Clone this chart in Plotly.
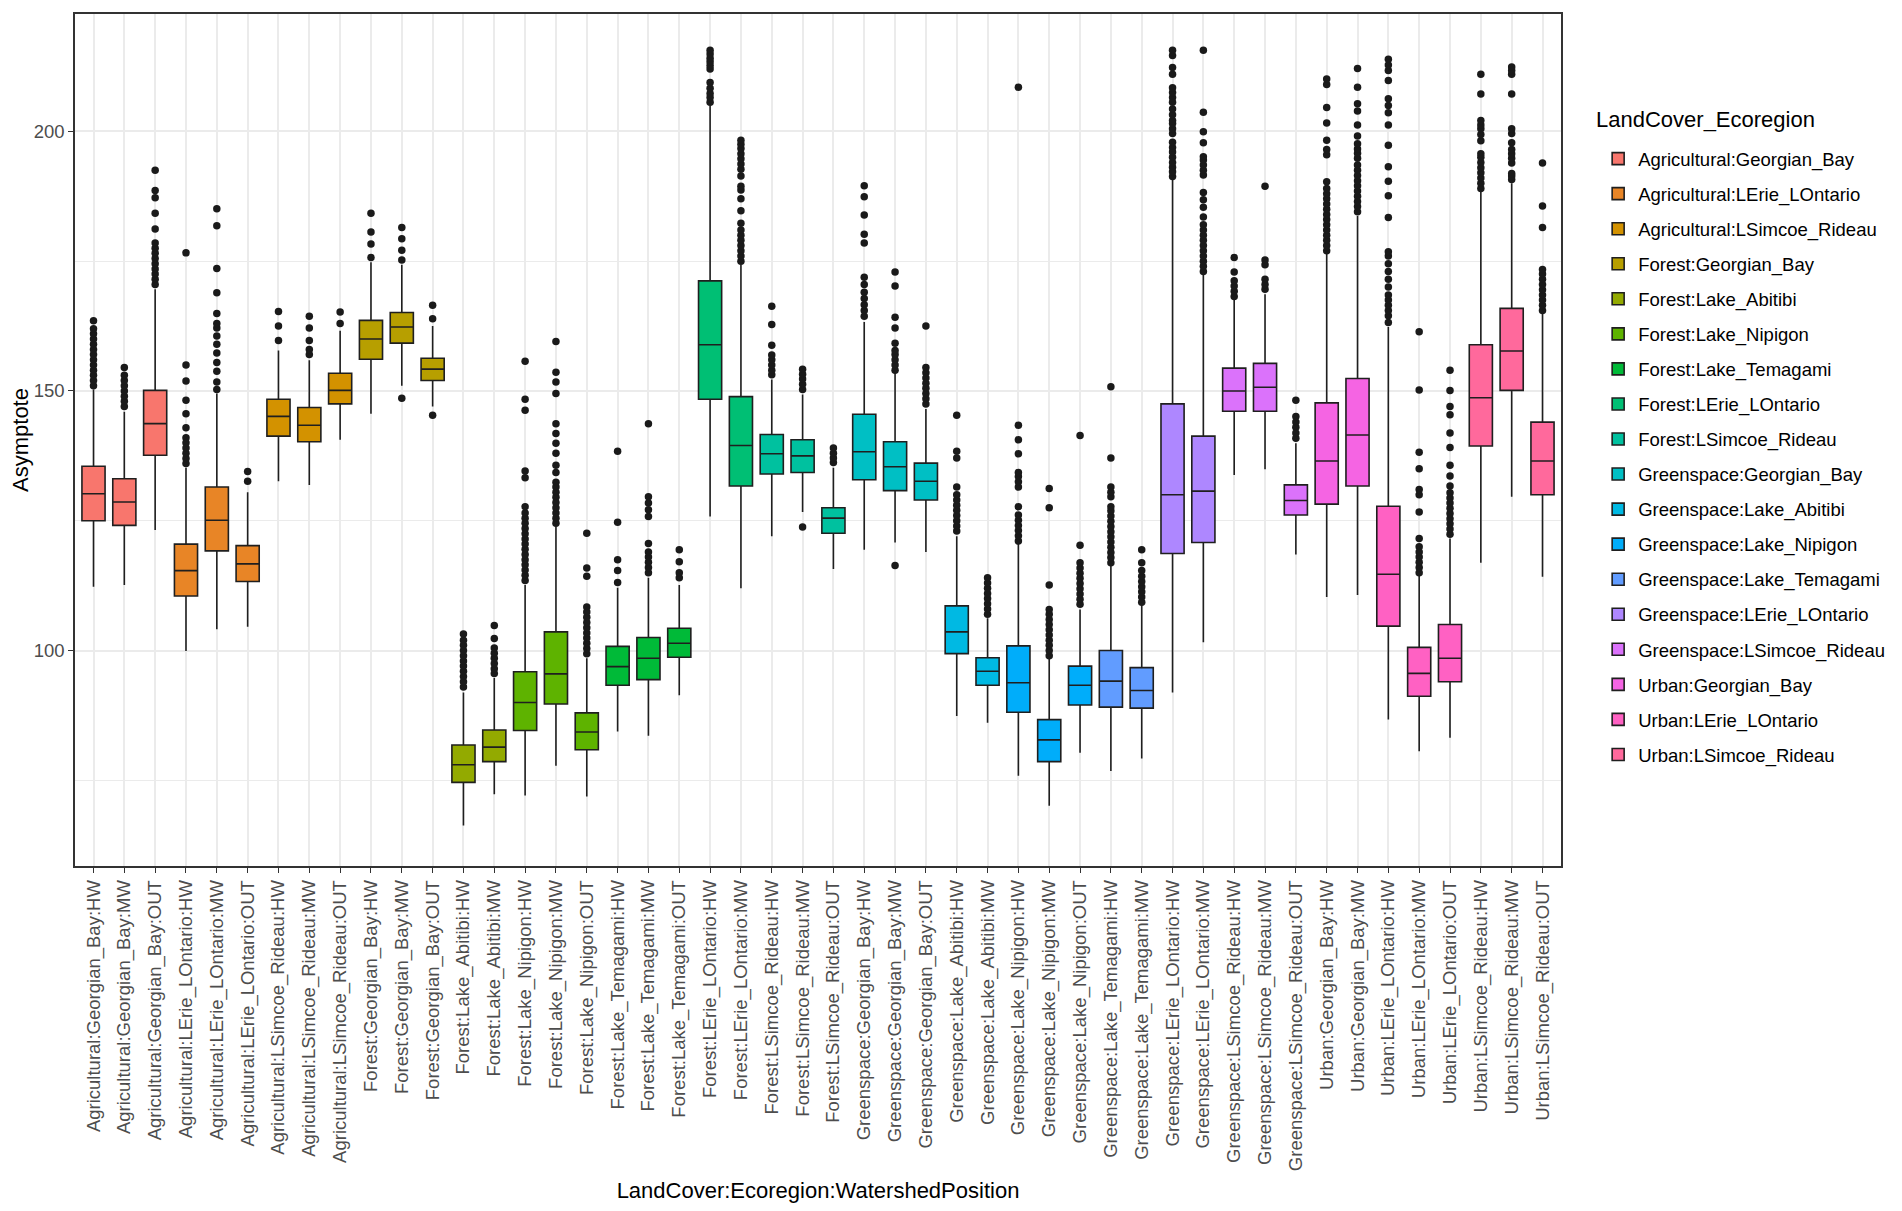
import math
import plotly.graph_objects as go

# categories along the x axis (LandCover:Ecoregion:WatershedPosition)
categories = [
    "Agricultural:Georgian_Bay:HW", "Agricultural:Georgian_Bay:MW", "Agricultural:Georgian_Bay:OUT",
    "Agricultural:LErie_LOntario:HW", "Agricultural:LErie_LOntario:MW", "Agricultural:LErie_LOntario:OUT",
    "Agricultural:LSimcoe_Rideau:HW", "Agricultural:LSimcoe_Rideau:MW", "Agricultural:LSimcoe_Rideau:OUT",
    "Forest:Georgian_Bay:HW", "Forest:Georgian_Bay:MW", "Forest:Georgian_Bay:OUT",
    "Forest:Lake_Abitibi:HW", "Forest:Lake_Abitibi:MW",
    "Forest:Lake_Nipigon:HW", "Forest:Lake_Nipigon:MW", "Forest:Lake_Nipigon:OUT",
    "Forest:Lake_Temagami:HW", "Forest:Lake_Temagami:MW", "Forest:Lake_Temagami:OUT",
    "Forest:LErie_LOntario:HW", "Forest:LErie_LOntario:MW",
    "Forest:LSimcoe_Rideau:HW", "Forest:LSimcoe_Rideau:MW", "Forest:LSimcoe_Rideau:OUT",
    "Greenspace:Georgian_Bay:HW", "Greenspace:Georgian_Bay:MW", "Greenspace:Georgian_Bay:OUT",
    "Greenspace:Lake_Abitibi:HW", "Greenspace:Lake_Abitibi:MW",
    "Greenspace:Lake_Nipigon:HW", "Greenspace:Lake_Nipigon:MW", "Greenspace:Lake_Nipigon:OUT",
    "Greenspace:Lake_Temagami:HW", "Greenspace:Lake_Temagami:MW",
    "Greenspace:LErie_LOntario:HW", "Greenspace:LErie_LOntario:MW",
    "Greenspace:LSimcoe_Rideau:HW", "Greenspace:LSimcoe_Rideau:MW", "Greenspace:LSimcoe_Rideau:OUT",
    "Urban:Georgian_Bay:HW", "Urban:Georgian_Bay:MW",
    "Urban:LErie_LOntario:HW", "Urban:LErie_LOntario:MW", "Urban:LErie_LOntario:OUT",
    "Urban:LSimcoe_Rideau:HW", "Urban:LSimcoe_Rideau:MW", "Urban:LSimcoe_Rideau:OUT",
]

# box statistics
q1 = [125.0, 124.1, 137.6, 110.5, 119.2, 113.3, 141.3, 140.2, 147.5, 156.1, 159.2, 152.0,
      74.6, 78.6, 84.6, 89.7, 80.9, 93.3, 94.4, 98.7, 148.4, 131.7, 134.0, 134.3, 122.6,
      132.9, 130.8, 129.0, 99.4, 93.3, 88.1, 78.6, 89.5, 89.1, 88.9, 118.7, 120.8,
      146.1, 146.1, 126.1, 128.2, 131.7, 104.7, 91.2, 94.0, 139.4, 150.1, 130.0]
medians = [130.2, 128.6, 143.7, 115.4, 125.1, 116.7, 145.1, 143.4, 150.1, 160.0, 162.3, 154.2,
           78.0, 81.4, 90.0, 95.5, 84.3, 96.9, 98.5, 101.4, 158.9, 139.5, 137.9, 137.5, 125.5,
           138.3, 135.4, 132.6, 103.6, 96.0, 93.8, 82.8, 93.3, 94.1, 92.3, 130.0, 130.7,
           150.0, 150.7, 128.9, 136.5, 141.5, 114.7, 95.6, 98.5, 148.7, 157.7, 136.5]
q3 = [135.5, 133.1, 150.1, 120.5, 131.5, 120.2, 148.4, 146.8, 153.4, 163.6, 165.1, 156.3,
      81.8, 84.7, 95.9, 103.6, 88.0, 100.8, 102.5, 104.3, 171.2, 148.9, 141.6, 140.6, 127.5,
      145.5, 140.2, 136.1, 108.6, 98.6, 100.9, 86.7, 97.0, 100.0, 96.7, 147.5, 141.3,
      154.4, 155.3, 131.9, 147.7, 152.4, 127.8, 100.6, 105.0, 158.9, 165.9, 144.0]
lower_whisker = [112.3, 112.6, 123.2, 99.9, 104.1, 104.6, 132.6, 131.9, 140.6, 145.6, 151.0, 147.0,
                 66.3, 72.3, 72.1, 77.8, 71.9, 84.4, 83.6, 91.4, 125.8, 112.0, 122.0, 126.7, 115.7,
                 119.4, 120.8, 119.0, 87.4, 86.1, 75.9, 70.1, 80.3, 76.8, 79.2, 91.9, 101.6,
                 133.8, 134.9, 118.5, 110.3, 110.7, 86.7, 80.6, 83.2, 116.9, 129.6, 114.2]
upper_whisker = [150.3, 146.0, 169.6, 135.2, 149.5, 130.5, 157.8, 155.9, 161.6, 174.8, 174.3, 162.5,
                 91.9, 94.7, 112.6, 123.9, 98.5, 112.1, 114.0, 112.6, 205.0, 174.3, 152.2, 149.3, 135.2,
                 163.3, 153.8, 146.5, 122.0, 106.2, 120.6, 98.5, 107.9, 116.4, 108.9, 190.7, 172.4,
                 167.7, 168.6, 139.9, 176.6, 183.7, 162.3, 114.5, 121.6, 188.6, 190.0, 165.2]

# outlying points per category
outliers = [
    [151, 152, 153, 154, 155, 156, 157, 158, 159, 160, 161, 162, 163.5],
    [147, 148, 149, 150, 151, 152, 153, 154.5],
    [170.5, 171.5, 172.5, 173.5, 174.5, 175.5, 176.5, 177.5, 178.5, 181.2, 184.2, 187.2, 188.6, 192.5],
    [136, 137, 138, 139, 140, 141, 142.9, 145.6, 148.2, 151.9, 155.0, 176.6],
    [150.3, 151.7, 153.8, 155.5, 157.3, 159.0, 160.6, 162.1, 163.0, 164.9, 168.9, 173.6, 181.8, 185.1],
    [132.6, 134.5],
    [159.7, 162.5, 165.3],
    [157, 158, 159.7, 162.1, 164.4],
    [163.0, 165.2],
    [175.7, 178.3, 180.6, 184.2],
    [175.2, 177.1, 179.3, 181.5, 148.6],
    [163.9, 166.5, 145.3],
    [93, 94, 95, 96, 97, 98, 99, 100, 101, 102, 103.2],
    [95.6, 96.5, 97.5, 98.5, 99.5, 100.5, 102.3, 104.8],
    [113.5, 114.5, 115.5, 116.5, 117.5, 118.5, 119.5, 120.5, 121.5, 122.5, 123.5, 124.5, 125.5,
     126.5, 127.7, 133.3, 134.6, 146.3, 148.4, 155.7],
    [124.5, 125.5, 126.5, 127.5, 128.5, 129.5, 130.5, 131.5, 132.4, 134.3, 135.7, 138.0, 139.9,
     141.8, 143.7, 149.5, 151.7, 153.6, 159.5],
    [99.4, 100.4, 101.4, 102.4, 103.4, 104.4, 105.4, 106.4, 107.4, 108.4, 114.3, 115.9, 122.6],
    [113.1, 115.4, 117.5, 124.7, 138.4],
    [115.0, 116.0, 117.0, 118.0, 119.0, 120.6, 125.8, 127.1, 128.4, 129.6, 143.7],
    [114.0, 115.0, 117.1, 119.4],
    [205.6, 206.5, 207.3, 208.3, 209.4, 212.0, 212.7, 213.4, 214.1, 214.9, 215.6],
    [175.0, 176.0, 177.0, 178.0, 179.0, 180.0, 181.0, 182.3, 184.7, 187.0, 188.7, 189.4, 191.4,
     192.7, 193.7, 194.7, 195.7, 196.7, 197.5, 198.3],
    [153.1, 154.0, 155.0, 156.0, 156.9, 158.8, 162.8, 166.3],
    [150.3, 151.3, 152.3, 153.2, 154.2, 123.8],
    [136.2, 137.1, 138.0, 139.0],
    [164.4, 165.5, 166.6, 167.8, 169.0, 170.5, 171.9, 178.5, 180.2, 183.9, 187.4, 189.5],
    [154.0, 155.0, 156.0, 157.0, 157.8, 159.2, 162.1, 164.2, 170.2, 172.9, 116.4],
    [147.5, 148.5, 149.5, 150.5, 151.5, 152.5, 153.5, 154.5, 162.5],
    [123.0, 124.0, 125.0, 126.0, 127.0, 128.0, 129.0, 130.0, 131.5, 137.1, 138.4, 145.3],
    [107.0, 108.0, 109.0, 110.0, 111.0, 112.0, 113.0, 114.0],
    [121.1, 122.1, 123.1, 124.1, 125.1, 126.1, 127.7, 131.5, 132.5, 133.5, 134.3, 137.9, 140.6,
     143.4, 208.5],
    [99.0, 100.0, 101.0, 102.0, 103.0, 104.0, 105.0, 106.0, 107.0, 107.9, 112.6, 127.5, 131.2],
    [108.9, 109.9, 110.9, 111.9, 112.9, 113.9, 114.9, 115.9, 116.9, 120.3, 141.4],
    [116.9, 117.9, 118.9, 119.9, 120.9, 121.9, 122.9, 123.9, 124.9, 125.9, 126.9, 127.7, 129.6,
     130.5, 131.5, 137.1, 150.8],
    [109.3, 110.3, 111.3, 112.3, 113.3, 114.3, 115.4, 116.9, 119.4],
    [191.3, 192.2, 193.1, 194.0, 195.0, 196.0, 196.9, 197.9, 199.6, 200.5, 201.5, 202.1, 203.2,
     204.3, 205.6, 206.5, 207.5, 208.4, 211.0, 212.3, 214.6, 215.6],
    [173.0, 174.0, 175.0, 176.0, 177.0, 178.0, 179.0, 180.0, 181.0, 182.0, 183.5, 185.4, 186.8,
     188.2, 191.6, 192.5, 193.5, 194.5, 195.1, 197.8, 199.9, 203.7, 215.6],
    [168.2, 169.2, 170.2, 171.2, 172.9, 175.7],
    [169.6, 170.5, 171.5, 174.3, 175.2, 189.4],
    [140.9, 141.9, 143.0, 144.0, 145.1, 148.2],
    [177.0, 178.0, 179.0, 180.0, 181.0, 182.0, 183.0, 184.0, 185.0, 186.0, 187.0, 188.0, 189.0,
     190.3, 195.5, 196.5, 198.3, 201.6, 204.6, 209.0, 210.1],
    [184.5, 185.5, 186.5, 187.5, 188.5, 189.5, 190.5, 191.5, 192.5, 193.5, 194.8, 195.8, 196.6,
     197.6, 199.1, 201.2, 203.9, 205.3, 208.5, 212.1],
    [163.2, 164.5, 165.5, 166.5, 167.5, 168.5, 170.0, 171.5, 173.0, 174.5, 176.0, 176.8, 183.4,
     187.6, 190.4, 193.2, 197.3, 201.2, 203.6, 205.0, 206.3, 209.8, 211.7, 212.8, 213.9],
    [115.0, 116.0, 117.0, 118.0, 119.0, 120.0, 121.6, 126.7, 130.0, 131.0, 135.0, 138.2, 150.2, 161.4],
    [122.4, 123.4, 124.4, 125.4, 126.4, 127.4, 128.4, 129.4, 130.4, 131.7, 133.6, 135.7, 139.1,
     141.9, 145.4, 147.0, 150.1, 154.0],
    [189.0, 190.0, 191.0, 192.0, 193.0, 194.0, 195.0, 195.7, 198.2, 199.4, 200.5, 201.2, 202.1,
     207.2, 211.0],
    [190.7, 191.4, 191.9, 193.9, 194.8, 195.7, 196.5, 197.8, 199.6, 200.5, 207.2, 211.0, 211.7, 212.4],
    [165.5, 166.5, 167.5, 168.5, 169.5, 170.5, 171.5, 172.5, 173.4, 181.5, 185.6, 193.9],
]

y_ticks = [100, 150, 200]
y_minor = [75, 125, 175]

FONT = "Liberation Sans, Arial, sans-serif"


def hcl_hex(h, c=100, l=65):
    """ggplot2-style hue colour (polar LUV -> sRGB)."""
    un, vn = 0.1978398, 0.4683363
    y = 100 * ((l + 16) / 116) ** 3
    u = c * math.cos(math.radians(h))
    v = c * math.sin(math.radians(h))
    up = u / (13 * l) + un
    vp = v / (13 * l) + vn
    x = 9 * y * up / (4 * vp)
    z = -x / 3 - 5 * y + 3 * y / vp
    x, y, z = x / 100, y / 100, z / 100
    rgb = [3.240479 * x - 1.537150 * y - 0.498535 * z,
           -0.969256 * x + 1.875992 * y + 0.041556 * z,
           0.055648 * x - 0.204043 * y + 1.057311 * z]
    out = []
    for ch in rgb:
        ch = 1.055 * ch ** (1 / 2.4) - 0.055 if ch > 0.0031308 else 12.92 * ch
        out.append(int(round(min(max(ch, 0), 1) * 255)))
    return "#%02X%02X%02X" % tuple(out)


groups = []
for cat in categories:
    g = cat.rsplit(":", 1)[0]
    if g not in groups:
        groups.append(g)
n = len(groups)
group_color = {g: hcl_hex(15 + 360 * i / n) for i, g in enumerate(groups)}

fig = go.Figure()

# one box trace per LandCover_Ecoregion group
for g in groups:
    idx = [i for i, cat in enumerate(categories) if cat.rsplit(":", 1)[0] == g]
    fig.add_trace(go.Box(
        x=[categories[i] for i in idx],
        q1=[q1[i] for i in idx],
        median=[medians[i] for i in idx],
        q3=[q3[i] for i in idx],
        lowerfence=[lower_whisker[i] for i in idx],
        upperfence=[upper_whisker[i] for i in idx],
        name=g,
        legendgroup=g,
        fillcolor=group_color[g],
        line=dict(color="#1F1F1F", width=1.6),
        whiskerwidth=0,
        width=0.75,
        boxpoints=False,
        hoverinfo="skip",
    ))

# outliers as black dots
ox, oy = [], []
for cat, pts in zip(categories, outliers):
    for p in pts:
        ox.append(cat)
        oy.append(p)
fig.add_trace(go.Scatter(
    x=ox, y=oy, mode="markers",
    marker=dict(color="#1A1A1A", size=7.5),
    showlegend=False, hoverinfo="skip",
))

# page body has an 8px margin, so the figure is a little smaller than the window
fig.update_layout(
    width=1886, height=1195,
    paper_bgcolor="white", plot_bgcolor="white",
    font=dict(family=FONT, color="#000000"),
    margin=dict(l=67, r=333, t=4, b=334),
    boxmode="overlay",
    legend=dict(
        font=dict(size=18.5, color="#000000"),
        x=1.025, xanchor="left", y=0.852, yanchor="top",
        tracegroupgap=8,
        traceorder="grouped",
    ),
    annotations=[dict(
        text="LandCover_Ecoregion", xref="paper", yref="paper",
        x=1.0225, y=0.876, xanchor="left", yanchor="middle",
        showarrow=False, font=dict(size=22, color="#000000"),
    )],
)

fig.update_xaxes(
    type="category",
    categoryorder="array", categoryarray=categories,
    range=[-0.6, len(categories) - 0.4],
    tickangle=-90,
    tickfont=dict(size=18.5, color="#4D4D4D"),
    ticks="outside", ticklen=5, tickwidth=1.3, tickcolor="#333333",
    showgrid=True, gridcolor="#EBEBEB", gridwidth=1.5,
    showline=True, linecolor="#333333", linewidth=1.5, mirror=True,
    title=dict(text="LandCover:Ecoregion:WatershedPosition",
               font=dict(size=22, color="#000000"), standoff=12),
    zeroline=False,
)

fig.update_yaxes(
    range=[58.5, 222.6],
    tickvals=y_ticks,
    tickfont=dict(size=18.5, color="#4D4D4D"),
    ticks="outside", ticklen=5, tickwidth=1.3, tickcolor="#333333",
    showgrid=True, gridcolor="#EBEBEB", gridwidth=1.5,
    minor=dict(tickvals=y_minor, showgrid=True, gridcolor="#EBEBEB", gridwidth=1, ticks=""),
    showline=True, linecolor="#333333", linewidth=1.5, mirror=True,
    title=dict(text="Asymptote", font=dict(size=22, color="#000000"), standoff=4),
    zeroline=False,
)

fig.write_html("out.html")
